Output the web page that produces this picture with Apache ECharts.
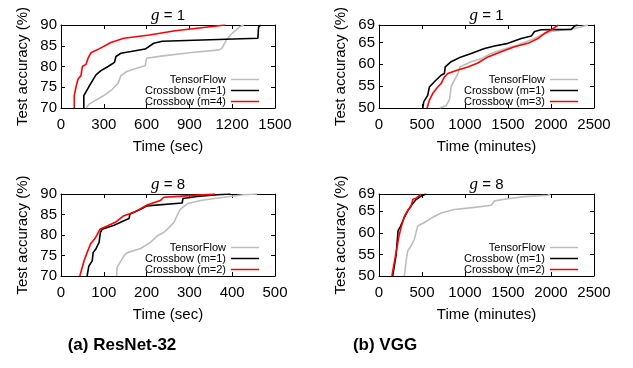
<!DOCTYPE html>
<html>
<head>
<meta charset="utf-8">
<script src="https://cdn.jsdelivr.net/npm/echarts@6/dist/echarts.min.js"></script>
<style>
  html, body { margin: 0; padding: 0; background: #fff; }
  #chart { width: 633px; height: 368px; }
</style>
</head>
<body>
<div id="chart"></div>
<script>
// series names
const nameTF = 'TensorFlow'
const nameCB1 = 'Crossbow (m=1)'
const nameCB4 = 'Crossbow (m=4)'
const nameCB3 = 'Crossbow (m=3)'
const nameCB2 = 'Crossbow (m=2)'

// tick ranges [min, max, interval]
const resnetG1Ticks = [0, 1500, 300]
const resnetG8Ticks = [0, 500, 100]
const vggTicks = [0, 2500, 500]
const resnetAccTicks = [70, 90, 5]
const vggAccTicks = [50, 69, 5]

// (a) ResNet-32, g = 1  [time sec, accuracy %]
const resnetG1TF = [[175, 70], [200, 71], [300, 73], [360, 74.5], [400, 76], [420, 77.8], [460, 78.8], [570, 80], [590, 80.2], [600, 82], [700, 82.5], [900, 83.3], [1110, 84], [1130, 84.5], [1160, 86.5], [1200, 88], [1250, 89.5], [1280, 90]]
const resnetG1CB1 = [[160, 70], [160, 73], [185, 74.5], [210, 76], [245, 78], [280, 79], [330, 80], [375, 81], [385, 82.4], [420, 83.2], [490, 83.6], [590, 84.2], [650, 85.6], [710, 86.1], [1380, 86.8], [1385, 89.5], [1400, 90]]
const resnetG1CB4 = [[93, 70], [93, 73], [108, 75.5], [120, 77], [140, 77.8], [150, 80], [175, 80.5], [190, 82], [210, 83.3], [270, 84.3], [350, 85.8], [440, 86.8], [620, 87.6], [800, 88.6], [1000, 89.4], [1150, 90]]

// (a) ResNet-32, g = 8
const resnetG8TF = [[130, 70], [131, 72.1], [147, 74.9], [155, 75.7], [186, 76.7], [209, 78.2], [225, 79.8], [240, 80.6], [252, 81.8], [264, 83.1], [271, 84.7], [279, 86.3], [295, 87.6], [326, 88.4], [380, 89.2], [427, 89.8], [458, 90]]
const resnetG8CB1 = [[61, 70], [65, 72.4], [73, 73.7], [75, 75.7], [81, 76.5], [89, 78.2], [92, 80.6], [96, 81.4], [124, 82.4], [147, 83.5], [159, 84], [161, 85.1], [186, 86.3], [201, 87.1], [283, 87.8], [285, 88.9], [318, 89.4], [365, 89.8], [396, 90]]
const resnetG8CB2 = [[44, 70], [54, 73.7], [61, 75.7], [69, 77.8], [81, 79.4], [91, 81.4], [108, 82.2], [127, 83.1], [147, 84.7], [174, 85.7], [201, 87.3], [232, 88.4], [240, 89.2], [302, 89.6], [360, 90]]

// (b) VGG, g = 1  [time minutes, accuracy %]
const vggG1TF = [[705, 50], [780, 50.5], [820, 52], [840, 55], [880, 56.5], [920, 58], [940, 59.4], [1072, 60.6], [1188, 61.3], [1305, 62.5], [1421, 63.3], [1615, 64.4], [1771, 65.6], [1887, 66.7], [2004, 67.5], [2275, 68.2], [2430, 69]]
const vggG1CB1 = [[510, 50], [520, 51.4], [566, 52.9], [586, 54.8], [625, 55.6], [664, 56.4], [722, 57.5], [761, 57.9], [770, 59.4], [839, 60.6], [955, 61.7], [1072, 62.5], [1227, 63.6], [1343, 64.2], [1499, 64.8], [1654, 65.9], [1771, 66.5], [1809, 67.5], [1887, 67.9], [2237, 68], [2275, 68.8], [2310, 69]]
const vggG1CB3 = [[560, 50], [586, 51.8], [625, 53.3], [683, 54.8], [722, 55.6], [761, 57.1], [800, 57.9], [916, 58.7], [1033, 59.4], [1149, 60.3], [1266, 61.7], [1421, 62.9], [1576, 64], [1732, 64.8], [1848, 65.9], [1926, 67.1], [2004, 67.9], [2085, 69]]

// (b) VGG, g = 8
const vggG8TF = [[295, 50], [315, 53.5], [334, 55.8], [373, 57], [411, 58.5], [431, 60.1], [450, 61.6], [528, 62.4], [625, 63.6], [722, 64.6], [877, 65.4], [1110, 65.9], [1305, 66.4], [1343, 67.4], [1499, 67.9], [1693, 68.4], [1964, 68.7], [1990, 69]]
const vggG8CB1 = [[159, 50], [198, 54.7], [222, 60.5], [240, 60.5], [250, 61.5], [295, 63.6], [334, 65.1], [373, 66.3], [431, 67.7], [489, 68.5], [545, 69]]
const vggG8CB2 = [[150, 50], [195, 55], [230, 59], [260, 61.5], [295, 63.8], [334, 65.2], [370, 66], [395, 67.8], [430, 68], [490, 69]]

const FONT = 'Liberation Sans'
const gray = '#bdbdbd'

// 画布布局
const panels = [
  { grid: { left: 61, top: 25, width: 214, height: 83 }, x: resnetG1Ticks, y: resnetAccTicks, xName: 'Time (sec)', title: '{g|g} = 1',
    lines: [[nameTF, resnetG1TF], [nameCB1, resnetG1CB1], [nameCB4, resnetG1CB4]] },
  { grid: { left: 379, top: 25, width: 215, height: 83 }, x: vggTicks, y: vggAccTicks, xName: 'Time (minutes)', title: '{g|g} = 1',
    lines: [[nameTF, vggG1TF], [nameCB1, vggG1CB1], [nameCB3, vggG1CB3]] },
  { grid: { left: 61, top: 194, width: 214, height: 82 }, x: resnetG8Ticks, y: resnetAccTicks, xName: 'Time (sec)', title: '{g|g} = 8',
    lines: [[nameTF, resnetG8TF], [nameCB1, resnetG8CB1], [nameCB2, resnetG8CB2]] },
  { grid: { left: 379, top: 194, width: 215, height: 82 }, x: vggTicks, y: vggAccTicks, xName: 'Time (minutes)', title: '{g|g} = 8',
    lines: [[nameTF, vggG8TF], [nameCB1, vggG8CB1], [nameCB2, vggG8CB2]] }
]

const colors = [gray, '#000', '#ff0000']

const grid = [], xAxis = [], yAxis = [], series = [], legend = [], title = []

panels.forEach((p, i) => {
  grid.push(p.grid)
  const axisLine = { show: true, onZero: false, lineStyle: { color: '#000', width: 1 } }
  const axisTick = { show: true, inside: true, length: 4, lineStyle: { color: '#000' } }
  const label = { color: '#000', fontFamily: FONT, fontSize: 15, formatter: v => String(v) }
  // 下方x轴 + 上方镜像
  xAxis.push({
    type: 'value', gridIndex: i, min: p.x[0], max: p.x[1], interval: p.x[2],
    axisLine, axisTick, splitLine: { show: false },
    axisLabel: { ...label, margin: 9 },
    name: p.xName, nameLocation: 'middle', nameGap: 31,
    nameTextStyle: { color: '#000', fontFamily: FONT, fontSize: 15 }
  })
  xAxis.push({
    type: 'value', gridIndex: i, position: 'top', min: p.x[0], max: p.x[1], interval: p.x[2],
    axisLine, axisTick, splitLine: { show: false }, axisLabel: { show: false }
  })
  yAxis.push({
    type: 'value', gridIndex: i, min: p.y[0], max: p.y[1], interval: p.y[2],
    axisLine, axisTick, splitLine: { show: false },
    axisLabel: { ...label, margin: 4 },
    name: 'Test accuracy (%)', nameLocation: 'middle', nameGap: 31, nameRotate: 90,
    nameTextStyle: { color: '#000', fontFamily: FONT, fontSize: 15 }
  })
  yAxis.push({
    type: 'value', gridIndex: i, position: 'right', min: p.y[0], max: p.y[1], interval: p.y[2],
    axisLine, axisTick, splitLine: { show: false }, axisLabel: { show: false }
  })

  p.lines.forEach(([name, data], k) => {
    series.push({
      type: 'line', name, data,
      xAxisIndex: i * 2, yAxisIndex: i * 2,
      symbol: 'none', clip: true, animation: false,
      lineStyle: { color: colors[k], width: 1.6 },
      itemStyle: { color: colors[k] }
    })
  })

  // 图例：文字在左，线在右
  legend.push({
    data: p.lines.map(l => l[0]),
    orient: 'vertical', align: 'right', icon: 'rect',
    right: 633 - (p.grid.left + p.grid.width - 16), top: p.grid.top + (i < 2 ? 49 : 48),
    padding: 0, itemGap: 0, itemWidth: 28, itemHeight: 1.5,
    selectedMode: false,
    textStyle: { color: '#000', fontFamily: FONT, fontSize: 11, lineHeight: 10.5 }
  })

  title.push({
    text: p.title, left: p.grid.left + p.grid.width / 2, top: p.grid.top - 18,
    textAlign: 'center', padding: 0,
    textStyle: {
      color: '#000', fontFamily: FONT, fontSize: 15, fontWeight: 'normal',
      rich: { g: { fontFamily: 'Liberation Serif', fontStyle: 'italic', fontSize: 17, color: '#000' } }
    }
  })
})

// 子图标题
title.push({ text: '(a) ResNet-32', left: 122, top: 337, textAlign: 'center', padding: 0,
  textStyle: { color: '#000', fontFamily: FONT, fontSize: 17, fontWeight: 'bold' } })
title.push({ text: '(b) VGG', left: 385, top: 337, textAlign: 'center', padding: 0,
  textStyle: { color: '#000', fontFamily: FONT, fontSize: 17, fontWeight: 'bold' } })

const myChart = echarts.init(document.getElementById('chart'), null, { renderer: 'canvas' })
myChart.setOption({
  animation: false,
  backgroundColor: '#fff',
  title, grid, xAxis, yAxis, legend, series
})
</script>
</body>
</html>
